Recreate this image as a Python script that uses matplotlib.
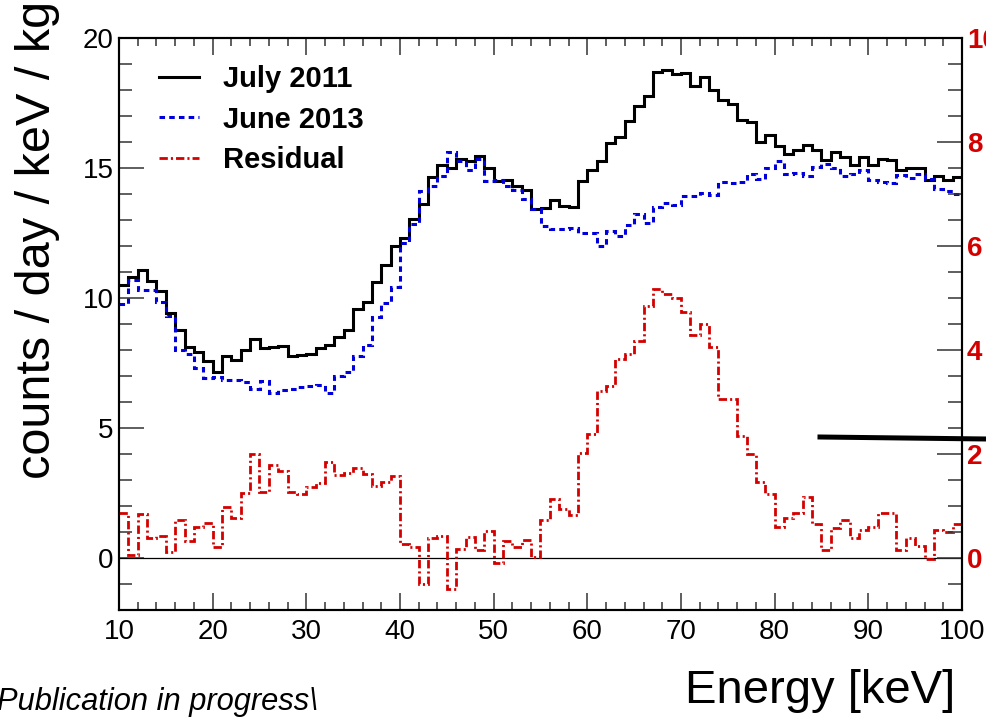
import numpy as np
import matplotlib.pyplot as plt
from matplotlib.lines import Line2D
from matplotlib.ticker import MultipleLocator

plt.rcParams['font.family'] = ['Liberation Sans', 'DejaVu Sans']
plt.rcParams['lines.scale_dashes'] = False

# 1 keV bins from 10 to 100 keV
edges = np.arange(10, 101)

july_2011 = [
    10.5, 10.8, 11.05, 10.65, 10.25, 9.4, 8.75, 8.1, 7.9, 7.55,
    7.15, 7.75, 7.6, 8.0, 8.4, 8.05, 8.1, 8.15, 7.75, 7.8,
    7.85, 8.05, 8.2, 8.5, 8.75, 9.55, 9.85, 10.6, 11.25, 12.0,
    12.3, 13.05, 13.6, 14.65, 15.1, 15.0, 15.35, 15.25, 15.45, 15.0,
    14.5, 14.55, 14.3, 14.15, 13.4, 13.45, 13.75, 13.55, 13.5, 14.5,
    14.9, 15.25, 15.95, 16.2, 16.8, 17.4, 17.75, 18.7, 18.75, 18.6,
    18.65, 18.15, 18.5, 18.0, 17.6, 17.45, 16.85, 16.75, 16.0, 16.25,
    15.85, 15.55, 15.7, 15.9, 15.7, 15.3, 15.6, 15.4, 15.1, 15.4,
    15.1, 15.35, 15.3, 14.9, 15.0, 15.0, 14.55, 14.7, 14.55, 14.65]

june_2013 = [
    9.75, 10.7, 10.3, 10.3, 9.85, 9.3, 8.0, 7.85, 7.3, 6.9,
    6.95, 6.85, 6.85, 6.75, 6.5, 6.8, 6.35, 6.45, 6.5, 6.55,
    6.6, 6.65, 6.35, 7.0, 7.15, 7.75, 8.2, 9.25, 9.8, 10.4,
    12.1, 12.85, 14.1, 14.3, 14.7, 15.6, 15.25, 14.9, 15.35, 14.5,
    14.55, 14.3, 14.15, 13.8, 13.4, 12.75, 12.65, 12.65, 12.7, 12.5,
    12.5, 12.0, 12.58, 12.37, 12.82, 13.22, 12.88, 13.5, 13.63, 13.59,
    13.9, 13.9, 14.02, 13.95, 14.47, 14.4, 14.45, 14.76, 14.59, 14.98,
    15.25, 14.75, 14.8, 14.7, 15.05, 15.15, 15.0, 14.7, 14.75, 14.9,
    14.55, 14.45, 14.43, 14.72, 14.62, 14.75, 14.56, 14.17, 14.1, 14.0]

# residual, read on the right (red) axis
residual = [
    0.85, 0.05, 0.84, 0.37, 0.42, 0.1, 0.72, 0.31, 0.58, 0.66,
    0.21, 0.97, 0.76, 1.24, 1.99, 1.27, 1.78, 1.67, 1.27, 1.22,
    1.35, 1.43, 1.83, 1.58, 1.62, 1.72, 1.61, 1.38, 1.45, 1.57,
    0.26, 0.2, -0.51, 0.37, 0.42, -0.61, 0.16, 0.4, 0.15, 0.52,
    -0.11, 0.31, 0.2, 0.33, 0.02, 0.72, 1.12, 0.94, 0.81, 2.01,
    2.38, 3.2, 3.31, 3.83, 3.92, 4.17, 4.85, 5.17, 5.08, 5.0,
    4.72, 4.28, 4.5, 4.06, 3.06, 3.06, 2.33, 2.0, 1.46, 1.23,
    0.59, 0.77, 0.86, 1.17, 0.65, 0.14, 0.56, 0.72, 0.37, 0.53,
    0.58, 0.86, 0.85, 0.15, 0.37, 0.22, -0.02, 0.53, 0.49, 0.65]

labels = ['July 2011', 'June 2013', 'Residual']
blue = '#0000dd'
red = '#d40000'
dash_blue = (0, (4, 3))
dash_red = (0, (6, 2.2, 1.5, 2.2))

fig = plt.figure(figsize=(9.87, 7.18), dpi=100)
ax = fig.add_axes([119/987, 1 - 609.5/718, 843/987, 571.5/718])
ax2 = ax.twinx()

ax.stairs(july_2011, edges, baseline=None, color='black', lw=2.2)
ax.stairs(june_2013, edges, baseline=None, color=blue, lw=2.2, ls=dash_blue)
ax.axhline(0, color='black', lw=0.9)
ax2.stairs(residual, edges, baseline=None, color=red, lw=2.0, ls=dash_red)

ax.set_xlim(10, 100)
ax.set_ylim(-2, 20)
ax2.set_ylim(-1, 10)

ax.xaxis.set_major_locator(MultipleLocator(10))
ax.xaxis.set_minor_locator(MultipleLocator(2))
ax.yaxis.set_major_locator(MultipleLocator(5))
ax.yaxis.set_minor_locator(MultipleLocator(1))
ax2.yaxis.set_major_locator(MultipleLocator(2))
ax2.yaxis.set_minor_locator(MultipleLocator(0.5))

tick_col = '#333333'
ax.tick_params(axis='x', which='both', direction='in', top=True, colors=tick_col,
               labelcolor='black', labelsize=20, pad=7, width=1.1)
ax.tick_params(axis='x', which='major', length=12)
ax.tick_params(axis='x', which='minor', length=5.5)
ax.tick_params(axis='y', which='both', direction='in', right=False, colors=tick_col,
               labelcolor='black', labelsize=20, pad=4, width=1.1)
ax.tick_params(axis='y', which='major', length=18)
ax.tick_params(axis='y', which='minor', length=9.5)
ax2.tick_params(axis='y', which='both', direction='in', colors=tick_col,
                labelcolor=red, labelsize=20, pad=3.5, width=1.1)
ax2.tick_params(axis='y', which='major', length=18)
ax2.tick_params(axis='y', which='minor', length=10)
for t in ax2.get_yticklabels():
    t.set_fontweight('bold')

for a in (ax, ax2):
    for s in a.spines.values():
        s.set_linewidth(1.5)

handles = [Line2D([], [], color='black', lw=2.2),
           Line2D([], [], color=blue, lw=2.2, ls=dash_blue),
           Line2D([], [], color=red, lw=2.0, ls=dash_red)]
ax.legend(handles, labels, loc='upper left', bbox_to_anchor=(40/843, 0.952),
          frameon=False, borderpad=0, borderaxespad=0, handlelength=1.38,
          handletextpad=0.8, labelspacing=0.42, prop={'weight': 'bold', 'size': 21})

fig.text(50/987, 1 - 479/718, 'counts / day / keV / kg', rotation=90,
         rotation_mode='anchor', ha='left', va='baseline', fontsize=35)
fig.text(955/987, 1 - 703/718, 'Energy [keV]', ha='right', va='baseline', fontsize=34)
fig.text(318/987, 1 - 710/718, 'Publication in progress\\', ha='right', va='baseline',
         fontsize=22.2, style='italic')

# stray thick stroke on the right side of the original
fig.add_artist(Line2D([820/987, 1.0], [1 - 437/718, 1 - 439/718], color='black',
                      lw=3.6, transform=fig.transFigure))

fig.savefig('out.png', dpi=100)
